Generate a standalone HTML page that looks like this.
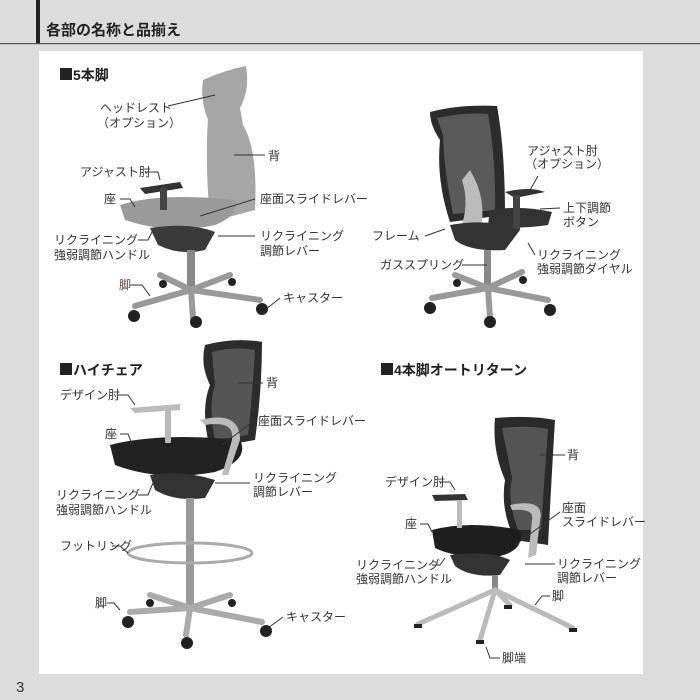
<!DOCTYPE html>
<html><head><meta charset="utf-8"><style>
html,body{margin:0;padding:0;background:#dcdcdd;}
svg{display:block}
text{font-family:"Liberation Sans","Noto Sans CJK JP",sans-serif;fill:#333;font-size:12px}
.t{font-size:14px;font-weight:bold;fill:#222}
.l{stroke:#333;stroke-width:1;fill:none}
</style></head><body>
<svg width="700" height="700" viewBox="0 0 700 700" xmlns="http://www.w3.org/2000/svg">
<rect width="700" height="700" fill="#dcdcdd"/>
<rect x="36" y="0" width="4" height="44" fill="#222"/>
<rect x="0" y="43" width="700" height="1.2" fill="#555"/>
<text x="46" y="35" class="t" style="font-size:15px">各部の名称と品揃え</text>
<rect x="39" y="51" width="604" height="623" fill="#fff"/>
<text x="16" y="692" style="font-size:15px">3</text>

<!-- Section titles -->
<rect x="60" y="68" width="12" height="12" fill="#222"/><text x="73" y="80" class="t">5本脚</text>
<rect x="60" y="363" width="12" height="12" fill="#222"/><text x="73" y="375" class="t">ハイチェア</text>
<rect x="381" y="363" width="12" height="12" fill="#222"/><text x="394" y="375" class="t">4本脚オートリターン</text>

<!-- Chair 1 gray -->
<g>
<path d="M203,80 Q225,70 246,66 Q250,90 240,108 L243,125 Q258,150 255,210 L210,222 Q205,160 208,120 Q200,100 203,80Z" fill="#a6a6a6"/>
<path d="M120,205 Q160,192 235,200 Q240,215 215,225 Q170,235 125,220Z" fill="#9a9a9a"/>
<path d="M140,188 L180,182 L183,188 L145,194Z" fill="#333"/>
<rect x="160" y="188" width="7" height="22" fill="#444"/>
<path d="M150,228 Q190,222 215,232 L205,250 Q180,256 158,245Z" fill="#3a3a3a"/>
<rect x="187" y="250" width="8" height="40" fill="#888"/>
<g stroke="#999" stroke-width="6" stroke-linecap="round">
<line x1="191" y1="290" x2="135" y2="306"/><line x1="191" y1="290" x2="193" y2="318"/><line x1="191" y1="290" x2="260" y2="300"/><line x1="191" y1="290" x2="160" y2="275"/><line x1="191" y1="290" x2="230" y2="275"/></g>
<g fill="#222"><circle cx="134" cy="316" r="6"/><circle cx="196" cy="322" r="6"/><circle cx="262" cy="309" r="6"/><circle cx="163" cy="284" r="4"/><circle cx="232" cy="282" r="4"/></g>
</g>
<path class="l" d="M168,106 L215,95"/><text x="100" y="112">ヘッドレスト</text><text x="97" y="127">（オプション）</text>
<path class="l" d="M234,155 L265,155"/><text x="268" y="160">背</text>
<path class="l" d="M145,172 L158,172 L160,180"/><text x="80" y="176">アジャスト肘</text>
<path class="l" d="M120,199 L130,199 L135,207"/><text x="104" y="203">座</text>
<path class="l" d="M200,216 L255,199"/><text x="260" y="203">座面スライドレバー</text>
<path class="l" d="M138,240 L148,240 L153,230"/><text x="54" y="244">リクライニング</text><text x="54" y="259">強弱調節ハンドル</text>
<path class="l" d="M218,236 L255,236"/><text x="260" y="240">リクライニング</text><text x="260" y="255">調節レバー</text>
<path class="l" d="M130,285 L142,285 L150,296"/><text x="119" y="289" style="fill:#6b4a3a">脚</text>
<path class="l" d="M265,310 L280,298"/><text x="283" y="302">キャスター</text>

<!-- Chair 2 black back view -->
<g>
<path d="M430,112 Q460,104 497,106 Q505,150 505,215 L450,222 Q436,180 440,140 Q430,125 430,112Z" fill="#2c2c2c"/>
<path d="M437,118 Q465,112 488,114 Q496,160 495,210 L453,214 Q444,170 443,135Z" fill="#5a5a5a"/>
<path d="M490,210 Q520,205 552,212 L548,225 Q515,230 488,225Z" fill="#333"/>
<path d="M505,192 Q530,186 545,192 L515,198Z" fill="#333"/>
<rect x="513" y="195" width="7" height="35" fill="#444"/>
<path d="M470,170 Q488,200 480,232 L460,230 Q470,205 462,180Z" fill="#bbb"/>
<path d="M450,225 Q490,218 520,230 L505,250 Q470,252 455,240Z" fill="#333"/>
<rect x="484" y="250" width="7" height="40" fill="#888"/>
<g stroke="#999" stroke-width="6" stroke-linecap="round">
<line x1="488" y1="288" x2="432" y2="298"/><line x1="488" y1="288" x2="490" y2="318"/><line x1="488" y1="288" x2="548" y2="300"/><line x1="488" y1="288" x2="455" y2="275"/><line x1="488" y1="288" x2="522" y2="272"/></g>
<g fill="#222"><circle cx="430" cy="308" r="6"/><circle cx="490" cy="322" r="6"/><circle cx="550" cy="310" r="6"/><circle cx="457" cy="283" r="4"/><circle cx="523" cy="280" r="4"/></g>
</g>
<text x="527" y="155">アジャスト肘</text><text x="525" y="168">（オプション）</text>
<path class="l" d="M538,176 L530,190"/>
<path class="l" d="M540,209 L560,208"/><text x="563" y="212">上下調節</text><text x="563" y="226">ボタン</text>
<path class="l" d="M425,236 L445,229"/><text x="372" y="240">フレーム</text>
<path class="l" d="M462,265 L487,265"/><text x="380" y="269">ガススプリング</text>
<path class="l" d="M528,243 L535,255"/><text x="537" y="259">リクライニング</text><text x="537" y="273">強弱調節ダイヤル</text>

<!-- Chair 3 high chair -->
<g>
<path d="M205,345 Q235,337 262,342 Q262,390 255,440 L210,448 Q200,410 210,385 Q200,365 205,345Z" fill="#2c2c2c"/>
<path d="M212,352 Q235,346 255,350 Q252,400 248,435 L215,440 Q208,405 215,385Z" fill="#555"/>
<path d="M110,445 Q160,432 240,440 Q250,460 215,472 Q160,482 115,465Z" fill="#222"/>
<path d="M130,408 L180,404 L180,410 L135,413Z" fill="#bbb"/>
<rect x="165" y="408" width="6" height="35" fill="#bbb"/>
<path d="M200,420 Q240,410 240,440 L228,475 L222,475 L232,440 Q235,420 205,425Z" fill="#bbb"/>
<path d="M150,475 Q185,470 215,480 L205,498 Q175,502 155,490Z" fill="#333"/>
<rect x="186" y="498" width="8" height="110" fill="#999"/>
<ellipse cx="190" cy="553" rx="62" ry="10" fill="none" stroke="#aaa" stroke-width="3"/>
<g stroke="#aaa" stroke-width="6" stroke-linecap="round">
<line x1="190" y1="608" x2="130" y2="612"/><line x1="190" y1="608" x2="186" y2="635"/><line x1="190" y1="608" x2="262" y2="622"/><line x1="190" y1="608" x2="150" y2="595"/><line x1="190" y1="608" x2="230" y2="595"/></g>
<g fill="#222"><circle cx="128" cy="622" r="6"/><circle cx="187" cy="643" r="6"/><circle cx="266" cy="631" r="6"/><circle cx="150" cy="603" r="4"/><circle cx="232" cy="603" r="4"/></g>
</g>
<path class="l" d="M238,383 L263,383"/><text x="266" y="387">背</text>
<path class="l" d="M118,395 L128,395 L135,405"/><text x="60" y="399">デザイン肘</text>
<path class="l" d="M120,434 L128,434 L132,444"/><text x="105" y="438">座</text>
<path class="l" d="M222,445 L255,420"/><text x="258" y="425">座面スライドレバー</text>
<path class="l" d="M138,495 L148,495 L153,483"/><text x="56" y="499">リクライニング</text><text x="56" y="514">強弱調節ハンドル</text>
<path class="l" d="M215,483 L250,483"/><text x="253" y="482">リクライニング</text><text x="253" y="496">調節レバー</text>
<path class="l" d="M112,546 L120,546 L128,553"/><text x="60" y="550">フットリング</text>
<path class="l" d="M107,603 L114,603 L120,610"/><text x="95" y="607">脚</text>
<path class="l" d="M268,628 L283,617"/><text x="286" y="621">キャスター</text>

<!-- Chair 4 -->
<g>
<path d="M495,418 Q530,415 555,420 Q552,470 548,545 L515,540 Q500,510 505,480 Q492,450 495,418Z" fill="#2a2a2a"/>
<path d="M502,428 Q528,425 548,429 Q545,470 541,530 L518,530 Q507,500 512,478Z" fill="#555"/>
<path d="M432,530 Q470,520 520,530 Q525,550 500,556 Q460,560 435,548Z" fill="#1e1e1e"/>
<path d="M432,495 L465,494 L468,500 L435,501Z" fill="#333"/>
<rect x="457" y="500" width="5" height="28" fill="#bbb"/>
<path d="M510,505 Q545,498 540,520 L536,555 L528,558 L532,520 Q535,508 512,510Z" fill="#bbb"/>
<path d="M450,555 Q490,550 510,560 L500,575 Q470,578 455,566Z" fill="#333"/>
<rect x="492" y="575" width="6" height="15" fill="#888"/>
<g stroke="#bbb" stroke-width="5" stroke-linecap="round">
<line x1="495" y1="590" x2="418" y2="624"/><line x1="495" y1="590" x2="480" y2="640"/><line x1="495" y1="590" x2="573" y2="628"/><line x1="495" y1="590" x2="510" y2="605"/></g>
<g fill="#222"><rect x="414" y="624" width="8" height="4"/><rect x="476" y="640" width="8" height="4"/><rect x="569" y="628" width="8" height="4"/><rect x="504" y="605" width="8" height="4"/></g>
</g>
<path class="l" d="M540,455 L565,455"/><text x="567" y="459">背</text>
<path class="l" d="M440,482 L450,482 L455,490"/><text x="385" y="486">デザイン肘</text>
<path class="l" d="M420,524 L428,524 L432,532"/><text x="405" y="528">座</text>
<path class="l" d="M515,545 L560,512"/><text x="562" y="512">座面</text><text x="562" y="526">スライドレバー</text>
<path class="l" d="M432,565 L440,565 L445,558"/><text x="356" y="569">リクライニング</text><text x="356" y="583">強弱調節ハンドル</text>
<path class="l" d="M525,564 L555,564"/><text x="557" y="568">リクライニング</text><text x="557" y="582">調節レバー</text>
<path class="l" d="M535,605 L542,596 L550,596"/><text x="552" y="600">脚</text>
<path class="l" d="M486,647 L490,658 L500,658"/><text x="502" y="662">脚端</text>
</svg>
</body></html>
